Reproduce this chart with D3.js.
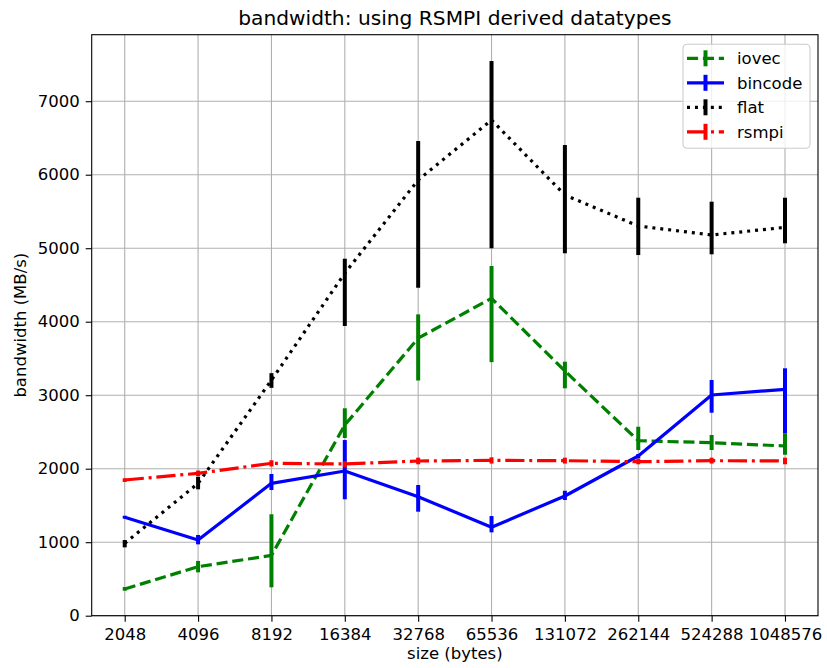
<!DOCTYPE html>
<html>
<head>
<meta charset="utf-8">
<script src="https://cdn.jsdelivr.net/npm/d3@7"></script>
<style>
body { margin: 0; background: #fff; }
text { font-family: "DejaVu Sans", sans-serif; fill: #000; }
</style>
</head>
<body>
<svg id="chart"></svg>
<script>
// message sizes (bytes)
var sizes = [2048, 4096, 8192, 16384, 32768, 65536, 131072, 262144, 524288, 1048576];

// bandwidth (MB/s): value, error bar low, error bar high
var iovec    = [363, 667, 820, 2594, 3776, 4318, 3330, 2381, 2354, 2309];
var iovecLo  = [340, 590, 386, 2418, 3200, 3450, 3094, 2254, 2254, 2190];
var iovecHi  = [390, 745, 1380, 2822, 4100, 4758, 3456, 2571, 2459, 2482];

var bincode   = [1339, 1030, 1801, 1969, 1619, 1203, 1629, 2173, 3003, 3080];
var bincodeLo = [1320, 971, 1710, 1584, 1415, 1134, 1574, 2140, 2762, 2482];
var bincodeHi = [1360, 1098, 1928, 2390, 1778, 1356, 1700, 2200, 3207, 3366];

var flat   = [985, 1800, 3205, 4660, 5928, 6744, 5724, 5302, 5180, 5284];
var flatLo = [930, 1720, 3100, 3942, 4463, 4999, 4931, 4907, 4917, 5067];
var flatHi = [1030, 1891, 3300, 4857, 6458, 7547, 6404, 5687, 5633, 5687];

var rsmpi   = [1846, 1937, 2073, 2064, 2105, 2114, 2109, 2095, 2109, 2105];
var rsmpiLo = [1820, 1900, 2030, 2020, 2060, 2070, 2070, 2060, 2070, 2060];
var rsmpiHi = [1870, 1975, 2115, 2105, 2150, 2155, 2150, 2135, 2150, 2150];

var yTicks = [0, 1000, 2000, 3000, 4000, 5000, 6000, 7000];

var series = [
    {name: "iovec",   color: "#008000", dash: "11.1,4.8",          v: iovec,   lo: iovecLo,   hi: iovecHi},
    {name: "bincode", color: "#0000ff", dash: null,                v: bincode, lo: bincodeLo, hi: bincodeHi},
    {name: "flat",    color: "#000000", dash: "3,4.95",            v: flat,    lo: flatLo,    hi: flatHi},
    {name: "rsmpi",   color: "#ff0000", dash: "19.2,4.8,3,4.8",    v: rsmpi,   lo: rsmpiLo,   hi: rsmpiHi}
];

var width = 827, height = 668;
var margin = {left: 91.7, right: 9, top: 34.7, bottom: 52.3};

var svg = d3.select("#chart").attr("width", width).attr("height", height);

var x = d3.scaleLog().base(2)
    .domain([2048 / Math.pow(2, 0.45), 1048576 * Math.pow(2, 0.45)])
    .range([margin.left, width - margin.right]);
var y = d3.scaleLinear()
    .domain([0, 7905])
    .range([height - margin.bottom, margin.top]);

// grid
var grid = svg.append("g");
grid.selectAll("line.gx").data(sizes).enter().append("line")
    .attr("x1", function (d) { return x(d); }).attr("x2", function (d) { return x(d); })
    .attr("y1", margin.top).attr("y2", height - margin.bottom)
    .attr("stroke", "#b0b0b0").attr("stroke-width", 1.1);
grid.selectAll("line.gy").data(yTicks).enter().append("line")
    .attr("y1", function (d) { return y(d); }).attr("y2", function (d) { return y(d); })
    .attr("x1", margin.left).attr("x2", width - margin.right)
    .attr("stroke", "#b0b0b0").attr("stroke-width", 1.1);

// axes
var xAxis = d3.axisBottom(x).tickValues(sizes).tickFormat(d3.format("d")).tickSize(6).tickPadding(7);
var yAxis = d3.axisLeft(y).tickValues(yTicks).tickFormat(d3.format("d")).tickSize(6).tickPadding(6);

var gx = svg.append("g").attr("transform", "translate(0," + (height - margin.bottom) + ")").call(xAxis);
var gy = svg.append("g").attr("transform", "translate(" + margin.left + ",0)").call(yAxis);
[gx, gy].forEach(function (g) {
    g.select(".domain").remove();
    g.selectAll(".tick line").attr("stroke", "#000").attr("stroke-width", 1.1);
    g.selectAll(".tick text").style("font-size", "16.5px").attr("fill", "#000");
});

// series
var line = d3.line()
    .x(function (d) { return x(d.s); })
    .y(function (d) { return y(d.v); });

series.forEach(function (s) {
    var pts = sizes.map(function (sz, i) { return {s: sz, v: s.v[i], lo: s.lo[i], hi: s.hi[i]}; });
    var g = svg.append("g");
    g.append("path")
        .datum(pts)
        .attr("d", line)
        .attr("fill", "none")
        .attr("stroke", s.color)
        .attr("stroke-width", 3.2)
        .attr("stroke-dasharray", s.dash)
        .attr("stroke-linejoin", "round");
    g.selectAll("line.err").data(pts).enter().append("line")
        .attr("x1", function (d) { return x(d.s); })
        .attr("x2", function (d) { return x(d.s); })
        .attr("y1", function (d) { return y(d.lo); })
        .attr("y2", function (d) { return y(d.hi); })
        .attr("stroke", s.color)
        .attr("stroke-width", 4);
});

// frame
svg.append("rect")
    .attr("x", margin.left).attr("y", margin.top)
    .attr("width", width - margin.right - margin.left)
    .attr("height", height - margin.bottom - margin.top)
    .attr("fill", "none").attr("stroke", "#000").attr("stroke-width", 1.1);

// titles
svg.append("text")
    .attr("x", (margin.left + width - margin.right) / 2).attr("y", 25)
    .attr("text-anchor", "middle").style("font-size", "20.2px")
    .text("bandwidth: using RSMPI derived datatypes");
svg.append("text")
    .attr("x", (margin.left + width - margin.right) / 2).attr("y", 659)
    .attr("text-anchor", "middle").style("font-size", "16.5px")
    .text("size (bytes)");
svg.append("text")
    .attr("transform", "translate(26," + ((margin.top + height - margin.bottom) / 2) + ") rotate(-90)")
    .attr("text-anchor", "middle").style("font-size", "16.5px")
    .text("bandwidth (MB/s)");

// legend
var lg = svg.append("g").attr("transform", "translate(683,44.3)");
lg.append("rect")
    .attr("width", 127).attr("height", 104).attr("rx", 4)
    .attr("fill", "#fff").attr("fill-opacity", 0.8)
    .attr("stroke", "#cccccc").attr("stroke-width", 1.1);
series.forEach(function (s, i) {
    var cy = 14 + i * 24.5;
    lg.append("line")
        .attr("x1", 4).attr("x2", 41).attr("y1", cy).attr("y2", cy)
        .attr("stroke", s.color).attr("stroke-width", 3.2)
        .attr("stroke-dasharray", s.dash);
    lg.append("line")
        .attr("x1", 22.5).attr("x2", 22.5).attr("y1", cy - 8).attr("y2", cy + 8)
        .attr("stroke", s.color).attr("stroke-width", 4);
    lg.append("text")
        .attr("x", 54).attr("y", cy).attr("dy", "0.35em")
        .style("font-size", "16.5px")
        .text(s.name);
});
</script>
</body>
</html>
